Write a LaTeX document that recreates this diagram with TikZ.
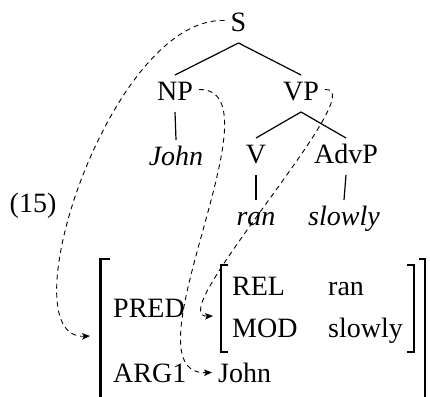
\documentclass[tikz,border=0pt]{standalone}
\usepackage{fontspec}
\setmainfont{Liberation Serif}
\usetikzlibrary{arrows.meta}
\begin{document}
\begin{tikzpicture}[x=1pt,y=-1pt,
  every node/.style={font=\fontsize{28}{34}\selectfont},
  tnode/.style={inner sep=0pt,outer sep=6pt,text height=19pt,text depth=6pt,anchor=base},
  avm/.style={inner sep=0pt,anchor=base west},
  branch/.style={line width=1.2pt},
  link/.style={line width=0.9pt,dash pattern=on 5pt off 4pt,-{Stealth[length=8pt,width=6.5pt,inset=2pt]}},
  brk/.style={line width=2.8pt,line join=miter}]
\useasboundingbox (0,0) rectangle (430,396);
% tree
\node[tnode] (S) at (238.5,31) {S};
\node[tnode] (NP) at (175,100) {NP};
\node[tnode] (VP) at (301,100) {VP};
\node[tnode] (John) at (176,165) {\itshape John};
\node[tnode] (V) at (256,163) {V};
\node[tnode] (AdvP) at (346,163) {AdvP};
\node[tnode] (ran) at (256,225) {\itshape ran};
\node[tnode] (slowly) at (344,225) {\itshape slowly};
\draw[branch] (S.south) -- (NP.north);
\draw[branch] (S.south) -- (VP.north);
\draw[branch] (NP.south) -- (John.north);
\draw[branch] (VP.south) -- (V.north);
\draw[branch] (VP.south) -- (AdvP.north);
\draw[branch] (V.south) -- (ran.north);
\draw[branch] (AdvP.south) -- (slowly.north);
% example number
\node[inner sep=0pt,anchor=base] (num) at (33,212) {(15)};
% AVM
\node[avm] (pred) at (113,317) {PRED};
\node[avm] (arg) at (113,382) {ARG1};
\node[avm] (rel) at (232,295) {REL};
\node[avm] (relv) at (328,295) {ran};
\node[avm] (mod) at (232,337) {MOD};
\node[avm] (modv) at (328,337) {slowly};
\node[avm] (jn) at (218,382) {John};
\draw[brk] (110,259) -- (100.5,259) -- (100.5,397);
\draw[line width=2.2pt,line join=miter] (419,259) -- (425,259) -- (425,397);
\draw[brk] (228,265) -- (221,265) -- (221,352) -- (228,352);
\draw[brk] (407,265) -- (414,265) -- (414,352) -- (407,352);
% links
\coordinate (a1) at (90,336);
\coordinate (a3) at (213,316);
\coordinate (a2) at ([xshift=-6pt]jn.west);
\draw[link] ([yshift=4pt]S.west) .. controls (110,16) and (5,340) .. (a1);
\draw[link] ([yshift=4pt]NP.east) .. controls (285,88) and (120,376) .. (a2);
\draw[link] ([yshift=4pt]VP.east) .. controls (375,86) and (160,318) .. (a3);
\end{tikzpicture}
\end{document}
